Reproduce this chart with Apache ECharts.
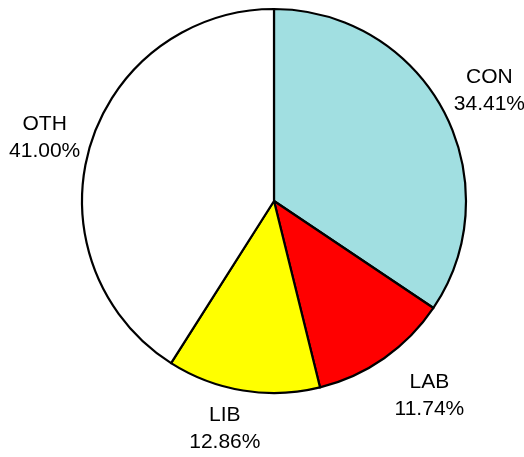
<!DOCTYPE html>
<html>
<head>
<meta charset="utf-8">
<script src="https://cdn.jsdelivr.net/npm/echarts@6/dist/echarts.min.js"></script>
<style>
  html, body { margin: 0; padding: 0; background: #fff; }
  #chart { width: 524px; height: 457px; }
</style>
</head>
<body>
<div id="chart"></div>
<script>
// Party shares
const categories = ['CON', 'LAB', 'LIB', 'OTH'];
const shares = [34.41, 11.74, 12.86, 41.00];
const colors = ['#a1dfe1', '#ff0000', '#ffff00', '#ffffff'];
// small nudges of each label away from its radial anchor
const labelNudges = [[1, 4], [16, -4], [-10, -12], [4, 5]];

const center = [274, 201];

const pieData = categories.map((name, i) => ({
  name: name,
  value: shares[i],
  itemStyle: { color: colors[i] }
}));

const labelData = categories.map((name, i) => ({
  name: name,
  value: shares[i],
  label: { offset: labelNudges[i] }
}));

const chart = echarts.init(document.getElementById('chart'), null, { renderer: 'canvas' });
chart.setOption({
  animation: false,
  backgroundColor: '#ffffff',
  series: [
    {
      type: 'pie',
      center: center,
      radius: [0, 192],
      startAngle: 90,
      clockwise: true,
      silent: true,
      itemStyle: { borderColor: '#000000', borderWidth: 2.2 },
      label: { show: false },
      labelLine: { show: false },
      data: pieData
    },
    {
      // transparent ring that carries the labels around the pie
      type: 'pie',
      center: center,
      radius: [226, 254],
      startAngle: 90,
      clockwise: true,
      silent: true,
      itemStyle: { color: 'rgba(0,0,0,0)', borderWidth: 0 },
      label: {
        show: true,
        position: 'inside',
        formatter: p => p.name + '\n' + p.value.toFixed(2) + '%',
        fontFamily: 'Liberation Sans, Arial, sans-serif',
        fontSize: 21,
        lineHeight: 27,
        color: '#000000',
        align: 'center'
      },
      labelLine: { show: false },
      data: labelData
    }
  ]
});
</script>
</body>
</html>
